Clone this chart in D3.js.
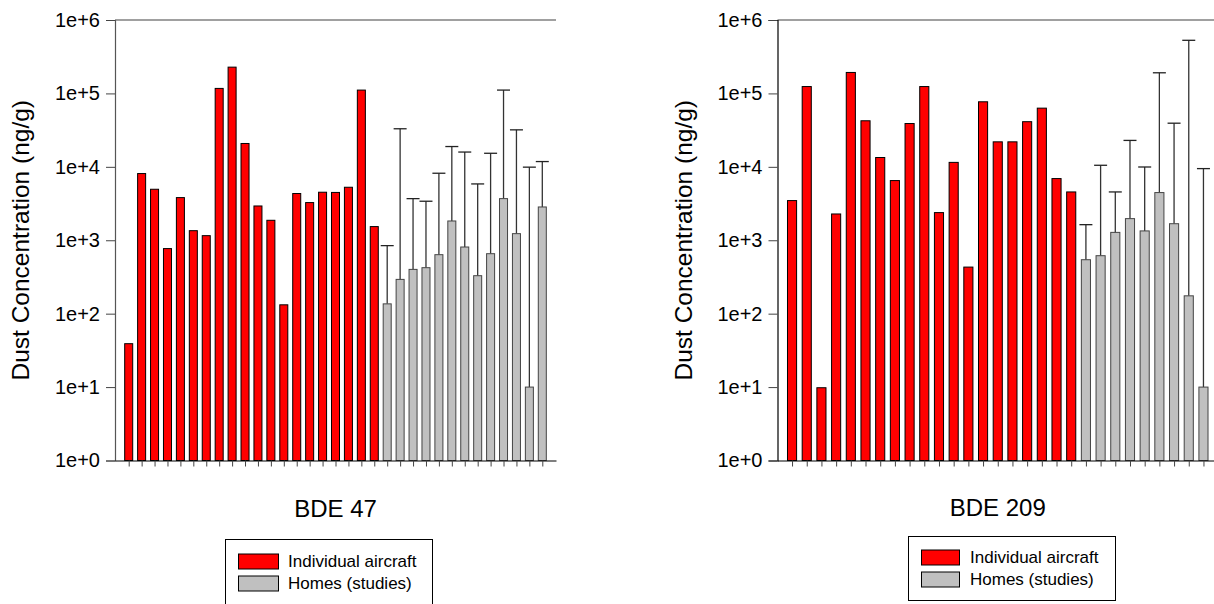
<!DOCTYPE html>
<html>
<head>
<meta charset="utf-8">
<script src="https://cdn.jsdelivr.net/npm/d3@7"></script>
<style>
  html, body { margin: 0; padding: 0; background: #fff; }
  svg { display: block; }
  text { font-family: Arial, "Liberation Sans", sans-serif; fill: #000; }
</style>
</head>
<body>
<svg id="chart" width="1214" height="604"></svg>
<script>
// ---------- data ----------
const tickValues = [1, 10, 100, 1000, 10000, 100000, 1000000];
const tickLabels = ["1e+0", "1e+1", "1e+2", "1e+3", "1e+4", "1e+5", "1e+6"];
const legendLabels = ["Individual aircraft", "Homes (studies)"];
const yTitle = "Dust Concentration (ng/g)";

const bde47Title = "BDE 47";
const bde47Aircraft = [39, 8100, 4950, 770, 3810, 1350, 1155, 117000, 228000, 20800, 2930, 1870, 132, 4330, 3260, 4510, 4480, 5270, 111000, 1535];
const bde47Homes = [136, 293, 401, 423, 636, 1830, 809, 329, 656, 3690, 1230, 10, 2840];
const bde47HomesUpper = [845, 33000, 3690, 3400, 8180, 18900, 15900, 5850, 15300, 111000, 31900, 9900, 11800];

const bde209Title = "BDE 209";
const bde209Aircraft = [3470, 124000, 9.8, 2280, 193000, 42400, 13400, 6500, 38900, 124000, 2380, 11500, 431, 76900, 21900, 21900, 41200, 63000, 6920, 4550];
const bde209Homes = [543, 616, 1280, 1970, 1340, 4460, 1680, 175, 10];
const bde209HomesUpper = [1630, 10500, 4550, 22900, 9950, 191000, 39300, 529000, 9460];

// ---------- drawing ----------
const svg = d3.select("#chart");
const RED = "#ff0000", GREY = "#c0c0c0";

function panel(cfg) {
  const rows = cfg.aircraft.map(v => ({ v, type: "a" }))
    .concat(cfg.homes.map((v, i) => ({ v, type: "h", up: cfg.upper[i] })));
  rows.forEach((r, i) => r.i = i);

  const x = d3.scalePoint().domain(rows.map(r => r.i)).range([cfg.x0, cfg.x1]).padding(cfg.pad);
  const y = d3.scaleLog().domain([1, 1e6]).range([cfg.yb, cfg.yt]);
  const bw = x.step() * 0.62;
  const g = svg.append("g");

  // top frame line
  g.append("line").attr("x1", cfg.x0).attr("x2", cfg.x1)
    .attr("y1", y(1e6)).attr("y2", y(1e6))
    .attr("stroke", "#808080").attr("stroke-width", 1.5);

  // error bars
  const hr = rows.filter(r => r.type === "h");
  g.selectAll(".err").data(hr).enter().append("line")
    .attr("x1", d => x(d.i)).attr("x2", d => x(d.i))
    .attr("y1", d => y(d.v)).attr("y2", d => y(d.up))
    .attr("stroke", "#333").attr("stroke-width", 1.3);
  g.selectAll(".cap").data(hr).enter().append("line")
    .attr("x1", d => x(d.i) - 6.5).attr("x2", d => x(d.i) + 6.5)
    .attr("y1", d => y(d.up)).attr("y2", d => y(d.up))
    .attr("stroke", "#222").attr("stroke-width", 1.3);

  // bars
  g.selectAll(".bar").data(rows).enter().append("rect")
    .attr("x", d => x(d.i) - bw / 2)
    .attr("width", bw)
    .attr("y", d => y(d.v))
    .attr("height", d => y(1) - y(d.v))
    .attr("fill", d => d.type === "a" ? RED : GREY)
    .attr("stroke", d => d.type === "a" ? "#000" : "#444")
    .attr("stroke-width", 1);

  // y axis
  const ya = d3.axisLeft(y).tickValues(tickValues)
    .tickFormat((d, i) => tickLabels[i]).tickSize(9).tickPadding(6);
  const yg = g.append("g").attr("transform", `translate(${cfg.x0},0)`).call(ya);
  yg.select(".domain").attr("stroke", cfg.ycol).attr("stroke-width", 1.2);
  yg.selectAll(".tick line").attr("stroke", "#444");
  yg.selectAll("text").style("font-size", "20px").style("font-family", "Arial, 'Liberation Sans', sans-serif");

  // x axis
  const xa = d3.axisBottom(x).tickFormat("").tickSize(6).tickSizeOuter(0);
  const xg = g.append("g").attr("transform", `translate(0,${cfg.yb})`).call(xa);
  xg.select(".domain").attr("stroke", "#000").attr("stroke-width", 1.2);
  xg.selectAll(".tick line").attr("stroke", "#444");

  // titles
  g.append("text").attr("transform", `translate(${cfg.ytx},${(cfg.yt + cfg.yb) / 2}) rotate(-90)`)
    .attr("text-anchor", "middle").attr("dominant-baseline", "central")
    .style("font-size", "24.5px").text(yTitle);
  g.append("text").attr("x", (cfg.x0 + cfg.x1) / 2).attr("y", cfg.xty)
    .attr("text-anchor", "middle").style("font-size", "24px").text(cfg.title);

  // legend
  const L = cfg.leg;
  g.append("rect").attr("x", L.x).attr("y", L.y).attr("width", L.w).attr("height", L.h)
    .attr("fill", "#fff").attr("stroke", "#000").attr("stroke-width", 1);
  [RED, GREY].forEach((c, i) => {
    g.append("rect").attr("x", L.sx).attr("y", L.sy + i * L.dy).attr("width", L.sw).attr("height", 15)
      .attr("fill", c).attr("stroke", "#000").attr("stroke-width", 1);
    g.append("text").attr("x", L.tx).attr("y", L.sy + i * L.dy + 13)
      .style("font-size", "17px").text(legendLabels[i]);
  });
}

panel({
  aircraft: bde47Aircraft, homes: bde47Homes, upper: bde47HomesUpper, title: bde47Title,
  x0: 115, x1: 556, pad: 1.06, yt: 20, yb: 460.5, ycol: "#555", ytx: 20, xty: 517,
  leg: { x: 225.5, y: 539.5, w: 207, h: 72, sx: 238.5, sy: 554, dy: 22, sw: 40, tx: 288 }
});
panel({
  aircraft: bde209Aircraft, homes: bde209Homes, upper: bde209HomesUpper, title: bde209Title,
  x0: 777.5, x1: 1218, pad: 0.99, yt: 20, yb: 460.5, ycol: "#000", ytx: 683, xty: 516,
  leg: { x: 908.5, y: 536.5, w: 207, h: 64, sx: 921.5, sy: 550, dy: 22, sw: 38, tx: 970 }
});
</script>
</body>
</html>
